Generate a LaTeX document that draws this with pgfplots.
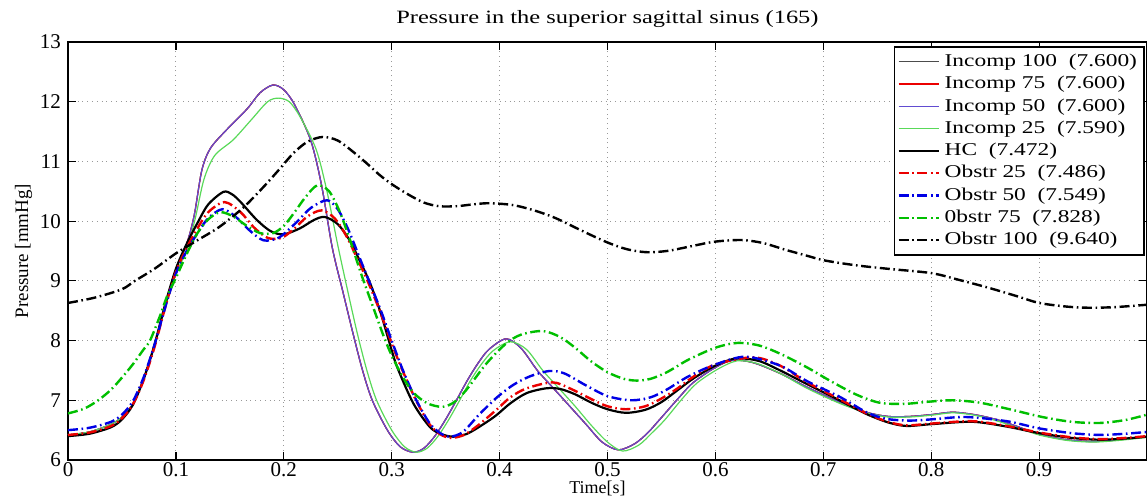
\documentclass[border=0pt]{standalone}
\usepackage{fontspec}
\setmainfont{Liberation Serif}
\newfontfamily\legfont{Liberation Serif}[FakeStretch=1.3]
\usepackage{pgfplots}
\pgfplotsset{compat=1.18}
\definecolor{mgreen}{rgb}{0,0.75,0}
\definecolor{lgreen}{rgb}{0.35,0.85,0.35}
\definecolor{mblue}{rgb}{0,0,0.9}
\definecolor{lblue}{rgb}{0.38,0.3,0.82}
\definecolor{mred}{rgb}{0.92,0,0}
\definecolor{dgray}{rgb}{0.3,0.3,0.3}

\pgfplotstableread{
x y
0 6.42
0.02 6.47
0.04 6.6
0.05 6.72
0.06 6.93
0.07 7.35
0.08 7.92
0.09 8.6
0.1 9.2
0.11 9.62
0.117 10.1
0.124 10.85
0.132 11.22
0.147 11.53
0.166 11.88
0.178 12.15
0.19 12.28
0.2 12.2
0.21 11.95
0.225 11.35
0.235 10.6
0.245 9.55
0.255 8.8
0.264 8.13
0.273 7.5
0.282 7.0
0.296 6.5
0.308 6.22
0.32 6.13
0.33 6.2
0.34 6.4
0.35 6.68
0.36 7.0
0.37 7.33
0.38 7.62
0.39 7.85
0.406 8.03
0.42 7.87
0.435 7.5
0.45 7.2
0.465 6.9
0.48 6.6
0.495 6.3
0.51 6.17
0.525 6.27
0.537 6.45
0.548 6.67
0.565 7.02
0.579 7.29
0.6 7.55
0.616 7.67
0.635 7.63
0.66 7.45
0.685 7.22
0.715 6.97
0.74 6.8
0.76 6.73
0.78 6.73
0.8 6.76
0.82 6.8
0.84 6.76
0.86 6.68
0.88 6.56
0.9 6.43
0.925 6.34
0.95 6.31
0.975 6.34
1.0 6.39
}\incompA

\pgfplotstableread{
x y
0 6.42
0.02 6.47
0.04 6.6
0.05 6.72
0.06 6.93
0.07 7.35
0.08 7.9
0.09 8.55
0.1 9.12
0.11 9.52
0.118 10.05
0.126 10.7
0.136 11.1
0.153 11.36
0.17 11.7
0.185 12.0
0.195 12.06
0.205 12.0
0.215 11.75
0.23 11.2
0.24 10.5
0.25 9.6
0.259 8.85
0.268 8.13
0.277 7.5
0.286 7.0
0.3 6.5
0.312 6.22
0.323 6.13
0.333 6.2
0.343 6.4
0.353 6.68
0.363 7.0
0.373 7.33
0.383 7.6
0.394 7.83
0.41 7.98
0.425 7.85
0.44 7.5
0.455 7.2
0.47 6.9
0.485 6.58
0.5 6.3
0.514 6.15
0.529 6.25
0.541 6.45
0.553 6.67
0.569 7.02
0.583 7.29
0.603 7.53
0.62 7.66
0.638 7.62
0.66 7.45
0.685 7.2
0.715 6.95
0.74 6.79
0.76 6.72
0.78 6.72
0.8 6.75
0.82 6.79
0.84 6.75
0.86 6.66
0.88 6.54
0.9 6.42
0.925 6.33
0.95 6.3
0.975 6.33
1.0 6.38
}\incompB

\pgfplotstableread{
x y
0 6.4
0.02 6.44
0.04 6.55
0.05 6.68
0.06 6.92
0.07 7.35
0.08 7.92
0.09 8.6
0.1 9.2
0.11 9.62
0.12 9.97
0.13 10.28
0.144 10.49
0.152 10.45
0.16 10.32
0.175 10.02
0.188 9.83
0.2 9.78
0.215 9.88
0.228 10.02
0.238 10.07
0.25 9.95
0.261 9.68
0.27 9.35
0.28 8.96
0.29 8.45
0.298 7.96
0.305 7.56
0.32 6.95
0.335 6.56
0.345 6.44
0.357 6.39
0.37 6.44
0.385 6.6
0.397 6.75
0.41 6.95
0.425 7.12
0.443 7.2
0.456 7.19
0.47 7.1
0.485 6.96
0.5 6.85
0.517 6.79
0.535 6.84
0.55 6.97
0.565 7.17
0.58 7.37
0.6 7.58
0.619 7.7
0.64 7.66
0.66 7.5
0.685 7.27
0.715 7.0
0.74 6.77
0.76 6.63
0.777 6.57
0.8 6.6
0.838 6.64
0.87 6.56
0.9 6.45
0.93 6.37
0.956 6.34
0.98 6.36
1.0 6.39
}\hc

\pgfplotstableread{
x y
0 6.42
0.02 6.46
0.04 6.57
0.05 6.7
0.06 6.93
0.07 7.33
0.08 7.88
0.09 8.55
0.1 9.15
0.11 9.55
0.12 9.88
0.13 10.15
0.145 10.32
0.16 10.15
0.172 9.9
0.185 9.72
0.198 9.72
0.21 9.88
0.222 10.08
0.235 10.18
0.247 10.05
0.258 9.75
0.27 9.3
0.28 8.9
0.29 8.45
0.3 7.95
0.31 7.5
0.322 7.02
0.335 6.6
0.345 6.43
0.355 6.37
0.367 6.42
0.38 6.58
0.397 6.84
0.41 7.05
0.425 7.2
0.449 7.3
0.465 7.2
0.485 7.02
0.5 6.9
0.517 6.85
0.535 6.9
0.55 7.03
0.565 7.2
0.58 7.4
0.6 7.6
0.635 7.72
0.66 7.58
0.685 7.3
0.715 7.02
0.74 6.78
0.76 6.64
0.777 6.58
0.8 6.61
0.838 6.65
0.87 6.57
0.9 6.46
0.93 6.38
0.956 6.35
0.98 6.37
1.0 6.4
}\obA

\pgfplotstableread{
x y
0 6.5
0.02 6.54
0.04 6.64
0.05 6.76
0.06 6.98
0.07 7.38
0.08 7.92
0.09 8.55
0.1 9.12
0.11 9.5
0.12 9.8
0.13 10.05
0.143 10.2
0.155 10.08
0.168 9.85
0.181 9.68
0.195 9.72
0.21 9.95
0.225 10.22
0.24 10.35
0.25 10.2
0.26 9.85
0.27 9.4
0.28 8.95
0.29 8.5
0.3 8.0
0.31 7.52
0.322 7.03
0.335 6.62
0.345 6.45
0.354 6.39
0.366 6.47
0.381 6.76
0.397 7.04
0.412 7.25
0.428 7.4
0.446 7.49
0.46 7.45
0.48 7.25
0.5 7.07
0.522 7.0
0.54 7.05
0.555 7.18
0.575 7.4
0.6 7.6
0.628 7.73
0.66 7.58
0.685 7.32
0.715 7.06
0.74 6.8
0.758 6.69
0.78 6.66
0.8 6.68
0.832 6.72
0.87 6.65
0.9 6.53
0.93 6.45
0.956 6.42
0.98 6.44
1.0 6.47
}\obB

\pgfplotstableread{
x y
0 6.78
0.015 6.86
0.028 7.0
0.04 7.18
0.05 7.38
0.06 7.6
0.07 7.85
0.076 8.0
0.085 8.4
0.092 8.75
0.1 9.05
0.11 9.45
0.12 9.8
0.13 10.03
0.141 10.15
0.153 10.08
0.165 9.93
0.178 9.8
0.19 9.8
0.2 9.92
0.21 10.15
0.22 10.4
0.231 10.6
0.242 10.5
0.252 10.15
0.262 9.65
0.272 9.1
0.282 8.6
0.292 8.1
0.3 7.75
0.31 7.4
0.32 7.13
0.333 6.95
0.347 6.89
0.358 6.97
0.369 7.17
0.388 7.62
0.406 7.95
0.42 8.1
0.44 8.16
0.456 8.06
0.47 7.88
0.485 7.65
0.5 7.47
0.515 7.36
0.527 7.33
0.54 7.36
0.555 7.47
0.575 7.68
0.6 7.88
0.62 7.96
0.64 7.92
0.66 7.78
0.685 7.55
0.705 7.34
0.73 7.1
0.752 6.96
0.775 6.94
0.8 6.98
0.82 7.0
0.845 6.96
0.875 6.84
0.903 6.72
0.93 6.64
0.956 6.62
0.98 6.67
1.0 6.76
}\obC

\pgfplotstableread{
x y
0 8.63
0.025 8.72
0.05 8.86
0.062 9.0
0.08 9.2
0.1 9.46
0.12 9.68
0.14 9.9
0.162 10.22
0.18 10.55
0.195 10.85
0.209 11.14
0.222 11.33
0.236 11.41
0.25 11.35
0.265 11.15
0.278 10.95
0.289 10.77
0.3 10.62
0.315 10.45
0.33 10.31
0.344 10.25
0.36 10.25
0.375 10.28
0.39 10.3
0.412 10.27
0.432 10.18
0.452 10.05
0.475 9.85
0.499 9.65
0.518 9.53
0.536 9.48
0.555 9.5
0.575 9.57
0.597 9.65
0.615 9.68
0.628 9.68
0.645 9.63
0.665 9.52
0.685 9.42
0.699 9.35
0.715 9.3
0.735 9.25
0.761 9.2
0.8 9.13
0.825 9.02
0.854 8.88
0.88 8.74
0.9 8.63
0.925 8.57
0.946 8.55
0.97 8.56
1.0 8.6
}\obD

\begin{document}
\begin{tikzpicture}
\begin{axis}[
  scale only axis,
  width=539.5pt, height=209pt,
  xmin=0, xmax=1, ymin=6, ymax=13,
  xtick={0,0.1,0.2,0.3,0.4,0.5,0.6,0.7,0.8,0.9,1},
  xticklabels={0,0.1,0.2,0.3,0.4,0.5,0.6,0.7,0.8,0.9,{}},
  ytick={6,7,8,9,10,11,12,13},
  /pgf/number format/assume math mode=true,
  ticklabel style={font=\fontsize{10.5}{12}\selectfont},
  xticklabel style={yshift=2.5pt},
  tick align=inside,
  major tick length=4pt,
  tick style={black, line width=0.6pt},
  grid=major,
  grid style={dotted, gray!80, line width=0.5pt},
  axis line style={line width=0.8pt},
  xlabel={Time[s]},
  ylabel={Pressure [mmHg]},
  label style={font=\fontsize{9.5}{11}\selectfont},
  xlabel style={at={(axis description cs:0.5,0)}, anchor=base, yshift=-16.6pt, xshift=-5pt, font=\fontsize{9}{10}\selectfont},
  ylabel style={yshift=-3pt},
  title={Pressure in the superior sagittal sinus (165)},
  title style={font=\legfont\fontsize{9.4}{10}\selectfont, yshift=-2.5pt},
  legend style={at={(0.998,0.99)}, anchor=north east, draw=black, line width=0.8pt,
    font=\legfont\fontsize{9}{10}\selectfont, row sep=-0.6pt, inner sep=1.5pt},
  legend cell align=left,
  legend image code/.code={\draw[#1] (0cm,0cm) -- (0.72cm,0cm);},
  every axis plot/.append style={smooth, tension=0.5},
]
\addplot[dgray, line width=0.6pt] table {\incompA};
\addlegendentry{Incomp 100\ \ (7.600)}
\addplot[mred, line width=0.6pt] table {\incompA};
\addlegendentry{Incomp 75\ \ (7.600)}
\addplot[lblue, line width=0.6pt] table {\incompA};
\addlegendentry{Incomp 50\ \ (7.600)}
\addplot[lgreen, line width=0.6pt] table {\incompB};
\addlegendentry{Incomp 25\ \ (7.590)}
\addplot[black, line width=1.1pt] table {\hc};
\addlegendentry{HC\ \ (7.472)}
\addplot[mred, line width=1.2pt, dash pattern=on 5pt off 1.8pt on 0.8pt off 1.8pt] table {\obA};
\addlegendentry{Obstr 25\ \ (7.486)}
\addplot[mblue, line width=1.2pt, dash pattern=on 5pt off 1.8pt on 0.8pt off 1.8pt] table {\obB};
\addlegendentry{Obstr 50\ \ (7.549)}
\addplot[mgreen, line width=1.2pt, dash pattern=on 5pt off 1.8pt on 0.8pt off 1.8pt] table {\obC};
\addlegendentry{0bstr 75\ \ (7.828)}
\addplot[black, line width=1.2pt, dash pattern=on 5pt off 1.8pt on 0.8pt off 1.8pt] table {\obD};
\addlegendentry{Obstr 100\ \ (9.640)}
\end{axis}
\pgfresetboundingbox
\path[use as bounding box] ([xshift=-34pt,yshift=-19.5pt]current axis.south west) rectangle ([yshift=21pt]current axis.north east);
\end{tikzpicture}
\end{document}
